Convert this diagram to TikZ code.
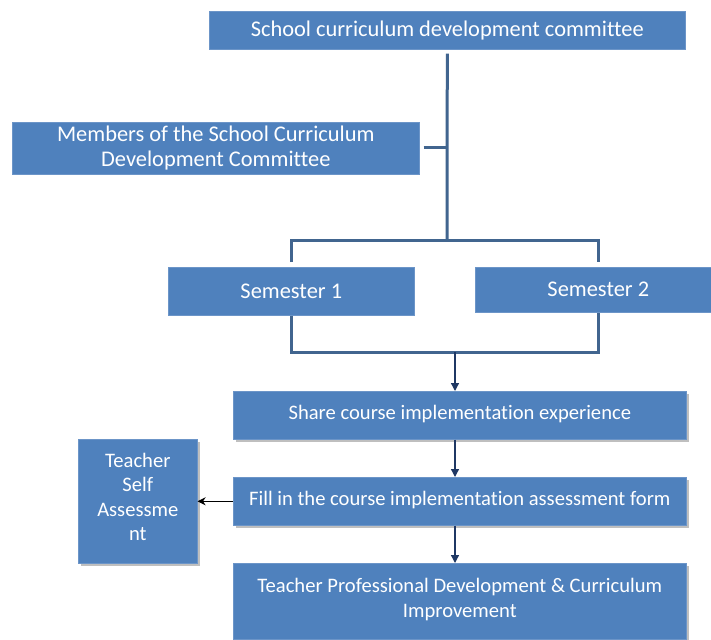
\documentclass[tikz,border=0pt]{standalone}
\usepackage{fontspec}
\setmainfont[Ligatures=NoCommon]{Carlito}
\usetikzlibrary{arrows.meta,shadows}
\definecolor{boxblue}{HTML}{4F81BD}
\definecolor{boxedge}{HTML}{6C95C8}
\definecolor{linkblue}{HTML}{41658F}
\definecolor{arrowblue}{HTML}{1F3864}
\begin{document}
\begin{tikzpicture}[x=1pt,y=-1pt,
  box/.style={fill=boxblue, draw=boxedge, line width=0.6pt, text=white,
    font=\fontsize{22.4}{25}\selectfont, align=center, inner sep=0pt, anchor=north west},
  small/.style={font=\fontsize{20.6}{24.5}\selectfont},
  shade/.style={drop shadow={shadow xshift=2.5pt, shadow yshift=-2.5pt, fill=black!45, opacity=0.55}},
  link/.style={draw=linkblue, line width=3pt},
  arr/.style={draw=arrowblue, line width=1.3pt, -{Triangle[length=8pt,width=8pt]}},
  larr/.style={draw=black, line width=1.3pt, -{Stealth[length=8pt,width=8pt]}}]
\useasboundingbox[fill=white] (0,0) rectangle (711,639);

\node[box, minimum width=476pt, minimum height=38pt] (top) at (209,11) {School curriculum development committee};
\node[box, minimum width=407pt, minimum height=52pt] (members) at (12,122) {Members of the School Curriculum\\Development Committee};
\node[box, minimum width=246pt, minimum height=48pt] (sem1) at (168,267) {Semester 1};
\node[box, minimum width=246pt, minimum height=45pt] (sem2) at (475,267) {Semester 2};
\node[box, small, shade, minimum width=453pt, minimum height=48pt] (share) at (233,391) {Share course implementation experience\\[-18pt]\mbox{}};
\node[box, small, shade, minimum width=453pt, minimum height=48pt] (fill) at (233,477) {Fill in the course implementation assessment form\\[-19pt]\mbox{}};
\node[box, small, shade, minimum width=119pt, minimum height=124pt] (teacher) at (78,439) {Teacher\\Self\\Assessme\\nt\\[-16pt]\mbox{}};
\node[box, small, shade, minimum width=453pt, minimum height=76pt] (final) at (233,563) {Teacher Professional Development \& Curriculum\\Improvement\\[-18pt]\mbox{}};

\coordinate (j1) at (447,240);
\coordinate (j2) at (455,352);

\draw[link] ([yshift=-4pt]top.south) -- (j1);
\draw[link] ([xshift=4pt,yshift=1pt]members.east) -- ([yshift=1pt]members.east -| j1);
\draw[link] ([yshift=5pt]sem1.north) |- (j1) -| ([yshift=5pt]sem2.north);
\draw[link] (sem1.south) |- (j2) -| (sem2.south);

\draw[arr] (j2) -- (j2 |- share.north);
\draw[arr] (j2 |- share.south) -- (j2 |- fill.north);
\draw[arr] (j2 |- fill.south) -- (j2 |- final.north);
\draw[larr] (fill.west) -- (teacher.east |- fill.west);
\end{tikzpicture}
\end{document}
